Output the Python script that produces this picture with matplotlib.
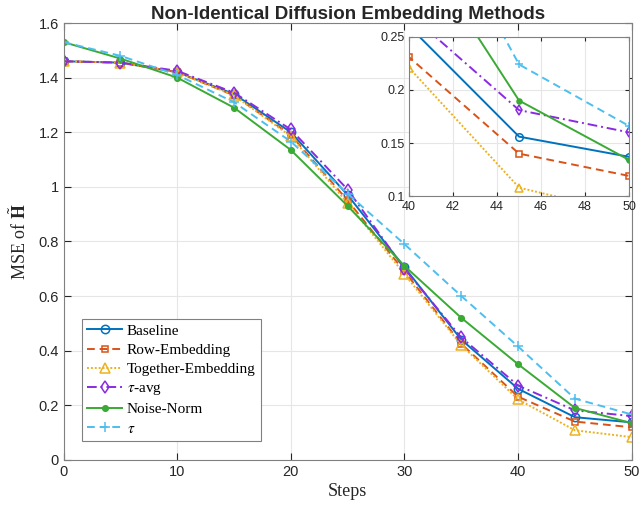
import matplotlib
matplotlib.use("Agg")
import matplotlib.pyplot as plt

plt.rcParams['mathtext.fontset'] = 'stix'

steps = [0, 5, 10, 15, 20, 25, 30, 35, 40, 45, 50]
baseline = [1.46, 1.455, 1.42, 1.34, 1.20, 0.97, 0.705, 0.44, 0.26, 0.156, 0.137]
row_emb = [1.46, 1.455, 1.42, 1.335, 1.19, 0.95, 0.69, 0.425, 0.231, 0.140, 0.119]
together_emb = [1.46, 1.455, 1.42, 1.335, 1.185, 0.94, 0.68, 0.42, 0.221, 0.108, 0.083]
tau_avg = [1.46, 1.455, 1.425, 1.345, 1.21, 0.99, 0.70, 0.448, 0.272, 0.181, 0.160]
noise_norm = [1.53, 1.47, 1.40, 1.29, 1.135, 0.93, 0.71, 0.52, 0.35, 0.19, 0.134]
tau = [1.53, 1.48, 1.41, 1.31, 1.166, 0.975, 0.79, 0.60, 0.415, 0.224, 0.166]

labels = ['Baseline', 'Row-Embedding', 'Together-Embedding', r'$\tau$-avg', 'Noise-Norm', r'$\tau$']
series = [baseline, row_emb, together_emb, tau_avg, noise_norm, tau]
colors = ['#0072BD', '#D95319', '#EDB120', '#8A2BE2', '#3AAA35', '#4DBEEE']
styles = ['-', (0, (4, 2.5)), (0, (1, 1)), (0, (5, 2, 1, 2)), '-', (0, (4, 2.5))]
markers = ['o', 's', '^', 'd', 'o', '+']
mfcs = ['none', 'none', 'none', 'none', None, None]
msizes = [6, 5, 6.5, 6, 4, 7]

fig = plt.figure(figsize=(6.42, 5.12), dpi=100)
ax = fig.add_axes([0.099, 0.102, 0.885, 0.853])

def draw(a, ms_scale=1.0):
    for y, lab, c, ls, m, mfc, ms in zip(series, labels, colors, styles, markers, mfcs, msizes):
        kw = dict(color=c, linestyle=ls, marker=m, markersize=ms * ms_scale, linewidth=1.4, label=lab)
        if mfc == 'none':
            kw['markerfacecolor'] = 'none'
        else:
            kw['markerfacecolor'] = c
        kw['markeredgewidth'] = 1.1
        a.plot(steps, y, **kw)

draw(ax)
ax.set_xlim(0, 50)
ax.set_ylim(0, 1.6)
ax.set_xticks([0, 10, 20, 30, 40, 50])
ax.set_yticks([0, 0.2, 0.4, 0.6, 0.8, 1.0, 1.2, 1.4, 1.6])
ax.set_yticklabels(['0', '0.2', '0.4', '0.6', '0.8', '1', '1.2', '1.4', '1.6'])
ax.grid(True, color='#e6e6e6', linewidth=0.8)
ax.set_axisbelow(True)
for s in ax.spines.values():
    s.set_color('#808080')
ax.tick_params(direction='in', colors='#262626', labelsize=10.5, length=5, top=True, right=True)
for lbl in ax.get_xticklabels() + ax.get_yticklabels():
    lbl.set_family('Liberation Sans')
ax.set_title('Non-Identical Diffusion Embedding Methods', fontsize=13.5, fontweight='bold',
             family='Liberation Sans', color='#262626', pad=3)
ax.set_xlabel('Steps', family='Liberation Serif', fontsize=13, color='#262626', labelpad=3)
ax.set_ylabel(r'MSE of $\tilde{\mathbf{H}}$', family='Liberation Serif', fontsize=13, color='#262626', labelpad=6)

leg = ax.legend(loc='lower left', bbox_to_anchor=(0.032, 0.043), borderaxespad=0,
                prop={'family': 'Liberation Serif', 'size': 11},
                fancybox=False, framealpha=1, edgecolor='#808080', handlelength=2.3,
                borderpad=0.35, labelspacing=0.36, handletextpad=0.3)
leg.get_frame().set_linewidth(0.8)

ins = fig.add_axes([0.637, 0.617, 0.343, 0.311])
draw(ins, 0.9)
ins.set_xlim(40, 50)
ins.set_ylim(0.1, 0.25)
ins.set_xticks([40, 42, 44, 46, 48, 50])
ins.set_yticks([0.1, 0.15, 0.2, 0.25])
ins.set_yticklabels(['0.1', '0.15', '0.2', '0.25'])
ins.grid(True, color='#e6e6e6', linewidth=0.8)
ins.set_axisbelow(True)
ins.set_facecolor('white')
for s in ins.spines.values():
    s.set_color('#808080')
ins.tick_params(direction='in', colors='#262626', labelsize=9, length=3, top=True, right=True, pad=2)
ins.tick_params(axis='x', pad=3.5)
ins.tick_params(axis='y', pad=3)
for lbl in ins.get_xticklabels() + ins.get_yticklabels():
    lbl.set_family('Liberation Sans')

fig.savefig('out.png', dpi=100)
